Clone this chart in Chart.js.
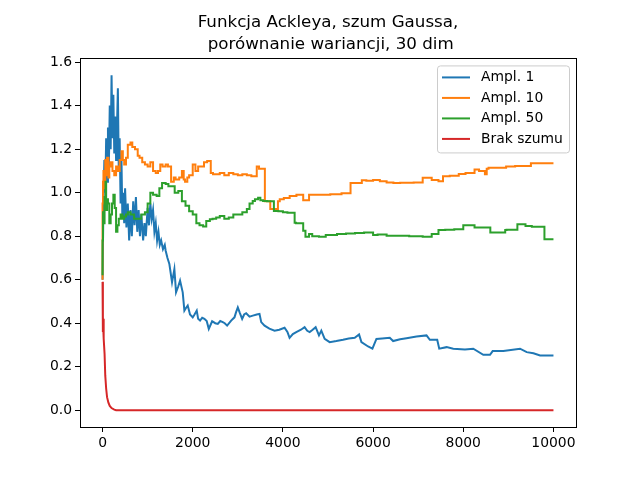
<!DOCTYPE html>
<html>
<head>
<meta charset="utf-8">
<script src="https://cdn.jsdelivr.net/npm/chart.js@4.4.1/dist/chart.umd.min.js"></script>
<style>
  body { margin: 0; background: #fff; }
  #wrap { width: 640px; height: 480px; }
</style>
</head>
<body>
<div id="wrap"><canvas id="cmain" width="640" height="480"></canvas></div>
<script>
// values
var titleLines = ['Funkcja Ackleya, szum Gaussa,', ' porównanie wariancji, 30 dim'];
var seriesLabels = ['Ampl. 1', 'Ampl. 10', 'Ampl. 50', 'Brak szumu'];
var seriesColors = ['#1f77b4', '#ff7f0e', '#2ca02c', '#d62728'];
var xTicks = [0, 2000, 4000, 6000, 8000, 10000];
var yTicks = [0, 0.2, 0.4, 0.6, 0.8, 1.0, 1.2, 1.4, 1.6];

var ampl1Iter = [0, 20, 40, 60, 80, 100, 120, 140, 160, 180, 200, 220, 240, 260, 280, 300, 320, 340, 360, 380,
    400, 420, 440, 460, 480, 500, 530, 560, 590, 620, 650, 680, 710, 740, 770, 800, 830, 860, 900, 930,
    960, 1000, 1030, 1060, 1090, 1120, 1150, 1180, 1210, 1240, 1270, 1300, 1340, 1380,
    1400, 1440, 1482, 1541, 1593, 1630, 1680, 1719, 1778, 1815, 1850, 1889, 1940, 2000, 2040, 2089, 2120, 2163, 2210, 2259,
    2310, 2356, 2430, 2500, 2556, 2610, 2667, 2710, 2763, 2852, 2926, 2960, 3000, 3040, 3096, 3140, 3185, 3260, 3333, 3420,
    3481, 3519, 3593, 3700, 3815, 3920, 4037, 4100, 4148, 4220, 4296, 4400, 4481, 4540, 4593, 4660, 4726, 4800, 4852, 4926,
    5037, 5185, 5333, 5460, 5593, 5689, 5741, 5889, 5985, 6074, 6200, 6370, 6444, 6600, 6741, 6963, 7185, 7259, 7422, 7467,
    7630, 7778, 8037, 8222, 8444, 8593, 8652, 8889, 9259, 9407, 9556, 9704, 10000];
var ampl1Val = [0.60, 0.95, 1.15, 1.00, 1.25, 1.05, 1.30, 1.12, 1.40, 1.20, 1.54, 1.25, 1.45, 1.18, 1.35, 1.15, 1.30, 1.48, 1.10, 1.25,
    0.95, 1.15, 0.88, 1.00, 0.86, 1.02, 0.84, 0.95, 0.78, 0.92, 0.80, 0.96, 0.85, 0.98, 0.82, 0.92, 0.80, 0.90, 0.78, 0.86,
    0.80, 0.93, 0.85, 0.95, 0.88, 0.92, 0.82, 0.86, 0.78, 0.82, 0.76, 0.78, 0.74, 0.76,
    0.733, 0.70, 0.672, 0.588, 0.649, 0.542, 0.57, 0.596, 0.542, 0.458, 0.47, 0.481, 0.44, 0.427, 0.44, 0.458, 0.42, 0.412, 0.425, 0.42,
    0.41, 0.374, 0.409, 0.40, 0.397, 0.41, 0.405, 0.40, 0.389, 0.412, 0.427, 0.45, 0.473, 0.45, 0.42, 0.44, 0.446, 0.43, 0.435, 0.44,
    0.443, 0.405, 0.389, 0.375, 0.366, 0.37, 0.379, 0.36, 0.333, 0.35, 0.359, 0.37, 0.382, 0.365, 0.359, 0.37, 0.382, 0.344, 0.366, 0.328,
    0.313, 0.318, 0.324, 0.33, 0.333, 0.348, 0.313, 0.293, 0.283, 0.328, 0.33, 0.333, 0.318, 0.326, 0.331, 0.339, 0.344, 0.324, 0.324, 0.283,
    0.29, 0.283, 0.279, 0.283, 0.255, 0.255, 0.272, 0.272, 0.283, 0.267, 0.262, 0.252, 0.252];

var ampl10Iter = [0, 10, 20, 40, 60, 80, 100, 130, 150, 180, 220, 260, 300, 340, 380, 420, 450, 480, 520, 560,
    620, 660, 720, 780, 820, 880, 940, 1000, 1060, 1120, 1180, 1230, 1280, 1330, 1400, 1450, 1520, 1580, 1620, 1700,
    1760, 1800, 1830, 1880, 1920, 2000, 2060, 2120, 2250, 2320, 2400, 2450, 2600, 2700, 2800, 2900, 3000, 3100, 3200, 3300,
    3420, 3470, 3600, 3720, 3890, 3930, 4020, 4150, 4300, 4450, 4580, 4610, 4800, 5050, 5300, 5500, 5750, 5850, 6000, 6150,
    6300, 6450, 6600, 6900, 7100, 7300, 7450, 7550, 7700, 7900, 8050, 8250, 8350, 8480, 8520, 8560, 8650, 8950, 9150, 9500,
    9600, 10000];
var ampl10Val = [0.60, 0.95, 1.05, 1.10, 1.02, 1.15, 1.08, 1.16, 1.07, 1.12, 1.14, 1.10, 1.08, 1.12, 1.10, 1.15, 1.19, 1.15, 1.13, 1.16,
    1.22, 1.23, 1.21, 1.20, 1.17, 1.16, 1.14, 1.13, 1.12, 1.14, 1.10, 1.09, 1.10, 1.13, 1.12, 1.13, 1.12, 1.05, 1.07, 1.06,
    1.07, 1.10, 1.06, 1.05, 1.07, 1.08, 1.13, 1.10, 1.12, 1.14, 1.145, 1.09, 1.085, 1.09, 1.08, 1.09, 1.085, 1.08, 1.085, 1.08,
    1.075, 1.12, 1.11, 0.96, 0.925, 0.96, 0.97, 0.975, 0.985, 0.99, 0.965, 0.99, 0.99, 0.99, 0.993, 0.997, 1.045, 1.057, 1.055, 1.058,
    1.052, 1.047, 1.045, 1.046, 1.047, 1.068, 1.058, 1.053, 1.076, 1.078, 1.086, 1.09, 1.106, 1.10, 1.085, 1.11, 1.114, 1.115, 1.12, 1.122,
    1.135, 1.135];

var ampl50Iter = [0, 10, 25, 45, 65, 80, 100, 120, 150, 180, 210, 240, 270, 300, 330, 360, 400, 440, 480, 520,
    560, 620, 700, 780, 860, 940, 1000, 1060, 1120, 1200, 1260, 1320, 1400, 1460, 1520, 1600, 1680, 1760, 1840, 1920,
    2000, 2080, 2150, 2230, 2300, 2380, 2440, 2520, 2600, 2700, 2800, 2900, 3000, 3100, 3200, 3260, 3330, 3380, 3450, 3500,
    3560, 3650, 3800, 3900, 4000, 4100, 4260, 4290, 4450, 4500, 4580, 4650, 4800, 4950, 5050, 5200, 5400, 5600, 5800, 6000,
    6100, 6300, 6500, 6800, 7100, 7300, 7450, 7600, 7800, 8000, 8250, 8400, 8600, 8930, 8960, 9200, 9380, 9520, 9800, 9830,
    10000];
var ampl50Val = [0.62, 0.78, 0.91, 0.86, 0.98, 1.05, 0.92, 0.97, 0.95, 0.86, 0.90, 0.95, 0.99, 0.93, 0.82, 0.85, 0.88, 0.90, 0.88, 0.89,
    0.90, 0.91, 0.90, 0.88, 0.88, 0.90, 0.91, 0.95, 1.00, 0.99, 0.985, 1.02, 1.045, 1.04, 1.03, 1.03, 1.00, 1.008, 0.96, 0.94,
    0.915, 0.90, 0.86, 0.85, 0.845, 0.87, 0.878, 0.88, 0.886, 0.893, 0.88, 0.886, 0.90, 0.90, 0.91, 0.925, 0.95, 0.962, 0.97, 0.977,
    0.965, 0.962, 0.96, 0.916, 0.915, 0.91, 0.908, 0.862, 0.86, 0.825, 0.797, 0.81, 0.80, 0.797, 0.806, 0.806, 0.81, 0.812, 0.815, 0.817,
    0.806, 0.808, 0.802, 0.802, 0.80, 0.797, 0.81, 0.828, 0.83, 0.832, 0.85, 0.84, 0.84, 0.817, 0.828, 0.83, 0.855, 0.847, 0.843, 0.786,
    0.786];

var noNoiseIter = [0, 5, 10, 15, 20, 30, 45, 60, 80, 100, 130, 160, 200, 260, 300, 10000];
var noNoiseVal = [0.59, 0.36, 0.43, 0.38, 0.42, 0.33, 0.26, 0.16, 0.10, 0.06, 0.035, 0.02, 0.01, 0.003, 0, 0];

function toPoints(xs, ys) {
    var pts = [];
    for (var i = 0; i < xs.length; i++) {
        pts.push({ x: xs[i], y: ys[i] });
    }
    return pts;
}

// matplotlib-like frame around the plot area
var frameBox = {
    id: 'frameBox',
    afterDatasetsDraw: function (chart) {
        var a = chart.chartArea, ctx = chart.ctx;
        ctx.save();
        ctx.strokeStyle = '#000';
        ctx.lineWidth = 1;
        ctx.strokeRect(Math.round(a.left) + 0.5, Math.round(a.top) + 0.5,
            Math.round(a.right - a.left), Math.round(a.bottom - a.top));
        ctx.restore();
    }
};

// legend box in the upper right corner of the axes
var cornerLegend = {
    id: 'cornerLegend',
    afterDraw: function (chart) {
        var ctx = chart.ctx, a = chart.chartArea;
        var boxW = 132, boxH = 87;
        var x0 = a.right - 7 - boxW, y0 = a.top + 7;
        ctx.save();
        ctx.beginPath();
        if (ctx.roundRect) {
            ctx.roundRect(x0 + 0.5, y0 + 0.5, boxW, boxH, 3);
        } else {
            ctx.rect(x0 + 0.5, y0 + 0.5, boxW, boxH);
        }
        ctx.fillStyle = 'rgba(255,255,255,0.8)';
        ctx.fill();
        ctx.strokeStyle = '#cccccc';
        ctx.lineWidth = 1;
        ctx.stroke();
        ctx.font = '13.9px "DejaVu Sans"';
        ctx.textBaseline = 'middle';
        for (var i = 0; i < seriesLabels.length; i++) {
            var yy = y0 + 12 + i * 20.5;
            ctx.strokeStyle = seriesColors[i];
            ctx.lineWidth = 2;
            ctx.beginPath();
            ctx.moveTo(x0 + 5, yy);
            ctx.lineTo(x0 + 33, yy);
            ctx.stroke();
            ctx.fillStyle = '#000';
            ctx.fillText(seriesLabels[i], x0 + 44, yy);
        }
        ctx.restore();
    }
};

function makeDataset(i, xs, ys, stepped) {
    return {
        label: seriesLabels[i],
        data: toPoints(xs, ys),
        borderColor: seriesColors[i],
        backgroundColor: seriesColors[i],
        borderWidth: 2,
        pointRadius: 0,
        stepped: stepped,
        fill: false,
        tension: 0,
        order: 3 - i
    };
}

var ctxMain = document.getElementById('cmain').getContext('2d');
var chartMain = new Chart(ctxMain, {
    type: 'line',
    data: {
        datasets: [
            makeDataset(0, ampl1Iter, ampl1Val, false),
            makeDataset(1, ampl10Iter, ampl10Val, 'after'),
            makeDataset(2, ampl50Iter, ampl50Val, 'after'),
            makeDataset(3, noNoiseIter, noNoiseVal, false)
        ]
    },
    options: {
        responsive: false,
        animation: false,
        devicePixelRatio: 1,
        layout: { padding: { left: 0, right: 64, top: 0, bottom: 0 } },
        plugins: {
            legend: { display: false },
            tooltip: { enabled: false },
            title: {
                display: true,
                fullSize: false,
                text: titleLines,
                color: '#000',
                font: { family: 'DejaVu Sans', size: 16.7, weight: 'normal', lineHeight: 1.3 },
                padding: { top: 12, bottom: 3 }
            }
        },
        scales: {
            x: {
                type: 'linear',
                min: -500,
                max: 10500,
                afterBuildTicks: function (scale) {
                    scale.ticks = xTicks.map(function (v) { return { value: v }; });
                },
                afterFit: function (scale) { scale.height = 53; },
                grid: { display: true, drawOnChartArea: false, drawTicks: true, tickLength: 5, color: '#000' },
                border: { display: true, color: '#000', width: 1 },
                ticks: {
                    color: '#000',
                    padding: 3,
                    maxRotation: 0,
                    font: { family: 'DejaVu Sans', size: 13.9 },
                    callback: function (v) { return String(v); }
                }
            },
            y: {
                type: 'linear',
                min: -0.077,
                max: 1.617,
                afterBuildTicks: function (scale) {
                    scale.ticks = yTicks.map(function (v) { return { value: v }; });
                },
                afterFit: function (scale) { scale.width = 80; },
                grid: { display: true, drawOnChartArea: false, drawTicks: true, tickLength: 5, color: '#000' },
                border: { display: true, color: '#000', width: 1 },
                ticks: {
                    color: '#000',
                    padding: 3,
                    font: { family: 'DejaVu Sans', size: 13.9 },
                    callback: function (v) { return v.toFixed(1); }
                }
            }
        }
    },
    plugins: [frameBox, cornerLegend]
});
</script>
</body>
</html>
